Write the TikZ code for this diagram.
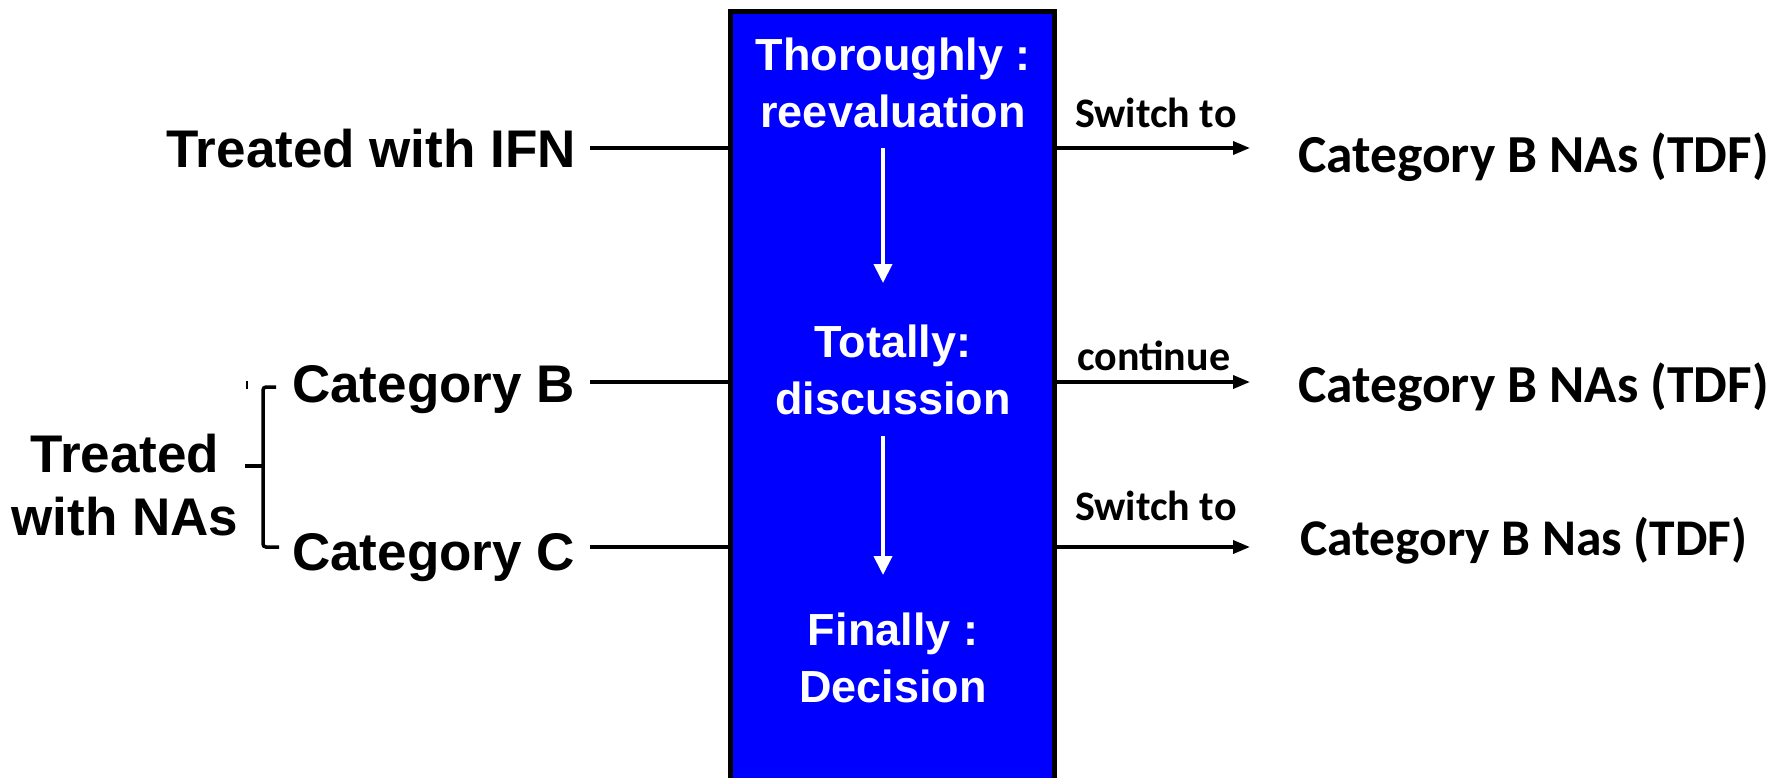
\documentclass[tikz,border=0pt]{standalone}
\usepackage{fontspec}
\setmainfont{Liberation Sans}
\newfontfamily\calfont{Carlito}
\usetikzlibrary{arrows.meta}
\definecolor{boxblue}{RGB}{0,0,255}

\begin{document}
\begin{tikzpicture}[x=1pt,y=-1pt,
  lbl/.style={font=\fontsize{53}{63}\selectfont\bfseries, inner sep=0pt},
  inbox/.style={font=\fontsize{45}{57}\selectfont\bfseries, text=white, inner sep=0pt, align=center, anchor=base},
  outlbl/.style={font=\calfont\bfseries\fontsize{53.5}{60}\selectfont, inner sep=0pt, anchor=base west},
  edgelbl/.style={font=\calfont\bfseries\fontsize{42}{50}\selectfont, inner sep=0pt, anchor=base west},
  panelbox/.style={draw=black, fill=boxblue, line width=5pt, minimum width=324pt, minimum height=789pt, inner sep=0pt},
  conn/.style={line width=3.5pt},
  arr/.style={line width=3.5pt, -{Triangle[length=17pt,width=13pt]}},
  flow/.style={white, line width=4pt, -{Triangle[length=19pt,width=18pt]}},
  brace/.style={line width=3.5pt, rounded corners=3pt},
]
\useasboundingbox (0,0) rectangle (1784,777);

% central panel
\node[panelbox] (panel) at (892,405.5) {};

% two-line labels: the base anchor sits on the last line
\node[inbox] (thor) at (893,127) {Thoroughly :\\reevaluation};
\node[inbox] (tot)  at (893,414) {Totally:\\discussion};
\node[inbox] (fin)  at (893,702) {Finally :\\Decision};

\coordinate (f1s) at (883,148);
\coordinate (f1e) at (883,283);
\coordinate (f2s) at (883,436);
\coordinate (f2e) at (883,575);
\draw[flow] (f1s) -- (f1e);
\draw[flow] (f2s) -- (f2e);

% inputs
\node[lbl, anchor=base east] (ifn) at (576,167) {Treated with IFN};
\node[lbl, anchor=base west] (catB) at (292,402) {Category B};
\node[lbl, anchor=base west] (catC) at (292,570) {Category C};
\node[lbl, align=center, anchor=base] (nas) at (125,535) {Treated\\with NAs};

\coordinate (inA) at (590,148);
\coordinate (inB) at (590,382);
\coordinate (inC) at (590,547);
\draw[conn] (inA) -- (inA -| panel.west);
\draw[conn] (inB) -- (inB -| panel.west);
\draw[conn] (inC) -- (inC -| panel.west);

% bracket grouping categories B and C
\coordinate (brT) at (276,387);
\coordinate (brB) at (279,547);
\coordinate (brM) at (245,466);
\draw[brace] (brT) -- (263,387) -- (263,547) -- (brB);
\draw[brace] (263,466) -- (brM);
\draw[line width=2pt] (247,381) -- (247,389);

% outputs
\coordinate (outA) at (1250,148);
\coordinate (outB) at (1250,382);
\coordinate (outC) at (1250,547);
\draw[arr] (outA -| panel.east) -- (outA);
\draw[arr] (outB -| panel.east) -- (outB);
\draw[arr] (outC -| panel.east) -- (outC);

\node[edgelbl] (lA) at (1075,127) {Switch to};
\node[edgelbl] (lB) at (1077,370) {continue};
\node[edgelbl] (lC) at (1075,520) {Switch to};

\node[outlbl] (rA) at (1298,172) {Category B NAs (TDF)};
\node[outlbl] (rB) at (1298,402) {Category B NAs (TDF)};
\node[outlbl, font=\calfont\bfseries\fontsize{51.5}{60}\selectfont] (rC) at (1300,555) {Category B Nas (TDF)};
\end{tikzpicture}
\end{document}
